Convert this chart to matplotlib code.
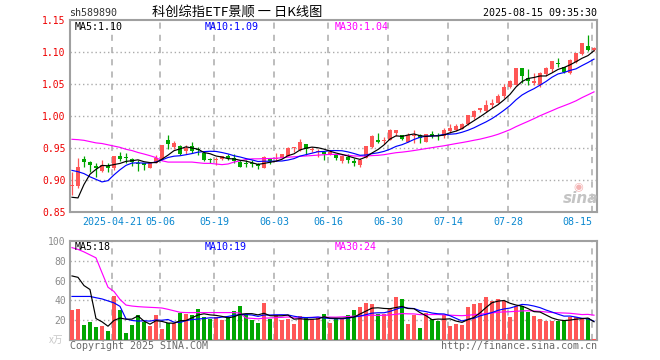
import numpy as np
import matplotlib
matplotlib.use('Agg')
import matplotlib.pyplot as plt
from matplotlib.transforms import blended_transform_factory

# ---------------- data ----------------
opens = [0.891, 0.890, 0.933, 0.928, 0.922, 0.9145, 0.922, 0.918, 0.9375, 0.935,
         0.933, 0.926, 0.926, 0.919, 0.927, 0.933, 0.9625, 0.951, 0.953, 0.946,
         0.953, 0.948, 0.9415, 0.932, 0.931, 0.9335, 0.9375, 0.934, 0.9286, 0.926,
         0.927, 0.925, 0.918, 0.935, 0.933, 0.935, 0.938, 0.950, 0.947, 0.956,
         0.947, 0.944, 0.943, 0.941, 0.9385, 0.930, 0.9365, 0.929, 0.923, 0.935,
         0.952, 0.9625, 0.961, 0.9625, 0.974, 0.970, 0.960, 0.969, 0.971, 0.960,
         0.9715, 0.970, 0.968, 0.977, 0.978, 0.980, 0.987, 0.999, 1.009, 1.008,
         1.017, 1.020, 1.031, 1.046, 1.048, 1.0745, 1.059, 1.051, 1.048, 1.0656,
         1.073, 1.083, 1.076, 1.0665, 1.084, 1.097, 1.109, 1.103]
highs = [0.913, 0.935, 0.938, 0.929, 0.926, 0.931, 0.927, 0.938, 0.944, 0.942,
         0.935, 0.931, 0.927, 0.927, 0.939, 0.955, 0.970, 0.961, 0.954, 0.954,
         0.959, 0.952, 0.944, 0.935, 0.936, 0.9375, 0.940, 0.940, 0.932, 0.932,
         0.932, 0.926, 0.937, 0.935, 0.942, 0.941, 0.951, 0.952, 0.964, 0.956,
         0.952, 0.948, 0.944, 0.945, 0.941, 0.939, 0.940, 0.935, 0.934, 0.953,
         0.970, 0.973, 0.967, 0.979, 0.978, 0.971, 0.973, 0.978, 0.972, 0.972,
         0.976, 0.973, 0.982, 0.987, 0.987, 0.989, 1.002, 1.009, 1.013, 1.025,
         1.026, 1.034, 1.050, 1.056, 1.0745, 1.0745, 1.073, 1.067, 1.068, 1.076,
         1.0865, 1.090, 1.076, 1.0885, 1.099, 1.1145, 1.1266, 1.108]
lows = [0.877, 0.887, 0.921, 0.913, 0.905, 0.912, 0.912, 0.916, 0.929, 0.927,
        0.922, 0.9145, 0.915, 0.918, 0.926, 0.932, 0.949, 0.949, 0.939, 0.940,
        0.942, 0.939, 0.930, 0.926, 0.924, 0.931, 0.932, 0.927, 0.920, 0.920,
        0.920, 0.917, 0.918, 0.925, 0.929, 0.934, 0.937, 0.944, 0.946, 0.939,
        0.944, 0.936, 0.931, 0.939, 0.932, 0.927, 0.927, 0.922, 0.921, 0.935,
        0.9495, 0.958, 0.956, 0.9625, 0.969, 0.962, 0.960, 0.958, 0.958, 0.960,
        0.965, 0.962, 0.966, 0.974, 0.977, 0.979, 0.986, 0.996, 1.006, 1.007,
        1.013, 1.020, 1.028, 1.043, 1.048, 1.051, 1.048, 1.048, 1.046, 1.0625,
        1.069, 1.077, 1.067, 1.0655, 1.083, 1.095, 1.102, 1.102]
closes = [0.892, 0.921, 0.928, 0.924, 0.918, 0.923, 0.918, 0.9375, 0.933, 0.934,
          0.928, 0.925, 0.923, 0.926, 0.934, 0.955, 0.956, 0.958, 0.940, 0.950,
          0.946, 0.947, 0.9315, 0.931, 0.932, 0.9375, 0.935, 0.929, 0.921, 0.925,
          0.925, 0.922, 0.9365, 0.930, 0.9335, 0.940, 0.950, 0.951, 0.960, 0.948,
          0.948, 0.945, 0.940, 0.944, 0.934, 0.937, 0.932, 0.926, 0.932, 0.953,
          0.968, 0.959, 0.962, 0.978, 0.978, 0.9635, 0.970, 0.970, 0.965, 0.972,
          0.968, 0.969, 0.978, 0.982, 0.985, 0.987, 1.0016, 1.008, 1.012, 1.017,
          1.020, 1.031, 1.046, 1.055, 1.0745, 1.0625, 1.055, 1.054, 1.0667, 1.0745,
          1.0865, 1.082, 1.069, 1.0875, 1.099, 1.1135, 1.103, 1.107]
volumes = [30.7, 31.3, 15, 18, 13.3, 14.3, 9, 44.3, 30, 7.3,
           15, 25, 18.3, 14.3, 25, 11.3, 16.7, 17.3, 27, 26,
           25, 31, 23.3, 21.7, 23.3, 20, 23.3, 29, 34, 26.7,
           20, 17.3, 37, 21.7, 25.7, 20.7, 21, 16, 24, 22.7,
           21, 22.7, 26.7, 17.3, 22.3, 21, 25, 30, 33, 37,
           36, 26.7, 26.7, 31.7, 43, 41.7, 16, 25.7, 12, 27.3,
           21.7, 19, 25, 14, 16, 15, 33, 36, 37, 43,
           39.3, 41, 39.3, 23, 34, 34, 28.3, 24, 21, 19,
           19, 19, 20, 23.5, 23.5, 22, 22, 1]

# moving-average values at the left edge (history before the first visible day)
ma5_head = [0.873, 0.872, 0.893, 0.909]
ma10_head = [0.915, 0.913, 0.910, 0.905, 0.901, 0.897, 0.899, 0.908, 0.916]
ma30_head = [0.9636, 0.963, 0.962, 0.960, 0.958, 0.957, 0.955, 0.953, 0.951, 0.948,
             0.946, 0.943, 0.9406, 0.938, 0.935, 0.930, 0.928, 0.928, 0.928, 0.928,
             0.928, 0.927, 0.926, 0.926, 0.925, 0.924, 0.925, 0.928, 0.930]
vma5_head = [64.7, 63.3, 55.0, 51.0]
vma10_head = [44, 44, 44, 44, 42.7, 41.5, 39.5, 37.5, 34]
vma30_head = [93.3, 91.5, 89, 86, 83, 68, 53.3, 49, 41, 35.3,
              34.3, 33.7, 33.3, 33, 32.7, 32.3, 31, 29.5, 28, 27.7,
              27.7, 27.7, 27.7, 27.7, 27.7, 27.7, 27.7, 27.7, 27.2]

date_ticks = [7, 15, 24, 34, 43, 53, 63, 73, 87]
date_labels = ['2025-04-21', '05-06', '05-19', '06-03', '06-16', '06-30',
               '07-14', '07-28', '08-15']
price_ticks = [0.85, 0.90, 0.95, 1.00, 1.05, 1.10, 1.15]
price_tick_labels = ['0.85', '0.90', '0.95', '1.00', '1.05', '1.10', '1.15']
vol_ticks = [20, 40, 60, 80, 100]
vol_tick_labels = ['20', '40', '60', '80', '100']
price_ma_labels = ['MA5:1.10', 'MA10:1.09', 'MA30:1.04']
vol_ma_labels = ['MA5:18', 'MA10:19', 'MA30:24']
code_text = 'sh589890'
title_text = '科创综指ETF景顺 一 日K线图'
time_text = '2025-08-15 09:35:30'

# ---------------- helpers ----------------
def moving_avg(vals, w, head):
    out = []
    for i in range(len(vals)):
        if i < w - 1:
            out.append(head[i])
        else:
            out.append(float(np.mean(vals[i - w + 1:i + 1])))
    return out

RED = '#ff5656'
GREEN = '#00a600'
GRID = '#ababab'
FRAME = '#a0a0a0'
MONO = 'DejaVu Sans Mono'

W, H = 660, 360
fig = plt.figure(figsize=(W / 100, H / 100), dpi=100)
fig.patch.set_facecolor('white')

def rect(l, t, r, b):
    return [l / W, 1 - b / H, (r - l) / W, (b - t) / H]

n = len(closes)
x = np.arange(n)
xmin, xmax = -0.33, 87.5

axp = fig.add_axes(rect(70, 20, 597, 212))
axv = fig.add_axes(rect(70, 241, 597, 340))

colors = [RED if c >= o else GREEN for o, c in zip(opens, closes)]

# candles
axp.vlines(x, lows, highs, colors=colors, linewidth=0.9, zorder=3)
bottoms = [min(o, c) for o, c in zip(opens, closes)]
heights = [max(abs(c - o), 0.0012) for o, c in zip(opens, closes)]
axp.bar(x, heights, bottom=bottoms, width=0.78, color=colors, linewidth=0, zorder=4)

ma5 = moving_avg(closes, 5, ma5_head)
ma10 = moving_avg(closes, 10, ma10_head)
ma30 = moving_avg(closes, 30, ma30_head)
axp.plot(x, ma30, color='#ff00ff', lw=0.85, zorder=5)
axp.plot(x, ma10, color='#0000ff', lw=0.85, zorder=5)
axp.plot(x, ma5, color='black', lw=0.85, zorder=5)

axp.set_xlim(xmin, xmax)
axp.set_ylim(0.85, 1.15)

# volume
axv.bar(x, volumes, width=0.8, color=colors, linewidth=0, zorder=3)
vma5 = moving_avg(volumes, 5, vma5_head)
vma10 = moving_avg(volumes, 10, vma10_head)
vma30 = moving_avg(volumes, 30, vma30_head)
axv.plot(x, vma30, color='#ff00ff', lw=0.85, zorder=5)
axv.plot(x, vma10, color='#0000ff', lw=0.85, zorder=5)
axv.plot(x, vma5, color='black', lw=0.85, zorder=5)
axv.set_xlim(xmin, xmax)
axv.set_ylim(0, 100)

# grids, spines, ticks
for ax in (axp, axv):
    for s in ax.spines.values():
        s.set_color(FRAME)
        s.set_linewidth(1.5)
    ax.set_xticks([])
    for t in date_ticks:
        ax.axvline(t - 0.33, color=GRID, lw=1.1, ls=(0, (4, 4)), zorder=1)
    ax.tick_params(axis='y', length=0, pad=3)

for v in price_ticks[1:-1]:
    axp.axhline(v, color=GRID, lw=1.0, ls=(0, (1, 2)), zorder=1)
for v in vol_ticks[:-1]:
    axv.axhline(v, color=GRID, lw=1.0, ls=(0, (1, 2)), zorder=1)

axp.set_yticks(price_ticks)
axp.set_yticklabels(price_tick_labels, color='#ee0000', fontsize=7, family=MONO)
axv.set_yticks(vol_ticks)
axv.set_yticklabels(vol_tick_labels, color='#8c8c8c', fontsize=7, family=MONO)

# date labels
tr = blended_transform_factory(axp.transData, axp.transAxes)
for t, lab in zip(date_ticks, date_labels):
    ha = 'right' if t == date_ticks[-1] else 'center'
    axp.text(t - 0.33, -0.05, lab, transform=tr, ha=ha, va='center',
             color='#0a88d0', fontsize=7.2, family=MONO)

# MA labels
def ftext(px, py, s, **kw):
    fig.text(px / W, 1 - py / H, s, **kw)

for px_, lab, col in zip([75, 205, 335], price_ma_labels, ['black', '#0000ff', '#ff00ff']):
    ftext(px_, 26.5, lab, color=col, fontsize=7.2, family=MONO, va='center', ha='left')
for px_, lab, col in zip([75, 205, 335], vol_ma_labels, ['black', '#0000ff', '#ff00ff']):
    ftext(px_, 246.5, lab, color=col, fontsize=7.2, family=MONO, va='center', ha='left')

# header
ftext(69, 12.5, code_text, color='#333333', fontsize=7.2, family=MONO, va='center', ha='left')
ftext(237, 12.5, title_text, color='black', fontsize=9.5,
      family=['Noto Sans CJK SC', 'DejaVu Sans'], va='center', ha='center')
ftext(597, 12.5, time_text, color='black', fontsize=7.2, family=MONO, va='center', ha='right')

# footer
ftext(70, 346, 'Copyright 2025 SINA.COM', color='#6a6a6a', fontsize=7.2, family=MONO,
      va='center', ha='left')
ftext(597, 346, 'http://finance.sina.com.cn', color='#6a6a6a', fontsize=7.2, family=MONO,
      va='center', ha='right')
ftext(63, 340, 'x万', color='#c8c8c8', fontsize=7,
      family=['Noto Sans CJK SC', 'DejaVu Sans'], va='center', ha='right')

# sina watermark
ftext(581, 198, 'sina', color='#c4c4c4', fontsize=11, fontweight='bold', style='italic',
      va='center', ha='center')
ftext(578, 187, '◉', color='#f3b3b3', fontsize=8, va='center', ha='center')

fig.savefig('out.png', dpi=100, facecolor='white')
